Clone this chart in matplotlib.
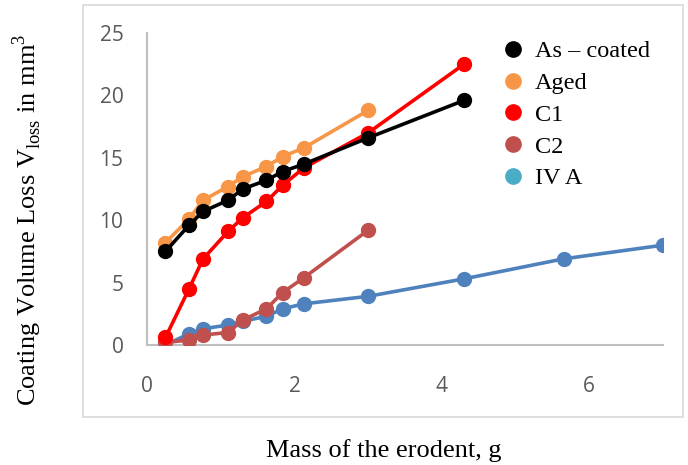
import matplotlib
matplotlib.use("Agg")
import matplotlib.pyplot as plt
from matplotlib.lines import Line2D
from matplotlib.patches import Rectangle

# mass of erodent (g)
x_main = [0.25, 0.57, 0.76, 1.1, 1.3, 1.62, 1.84, 2.13, 3.0, 4.3]
x_aged = [0.25, 0.57, 0.76, 1.1, 1.3, 1.62, 1.84, 2.13, 3.0]
x_c2 = [0.25, 0.57, 0.76, 1.1, 1.3, 1.62, 1.84, 2.13, 3.0]
x_iva = [0.25, 0.57, 0.76, 1.1, 1.3, 1.62, 1.84, 2.13, 3.0, 4.3, 5.65, 7.0]

# volume loss (mm^3)
as_coated = [7.5, 9.6, 10.7, 11.6, 12.5, 13.2, 13.9, 14.5, 16.6, 19.6]
aged = [8.2, 10.1, 11.6, 12.7, 13.5, 14.3, 15.1, 15.8, 18.8]
c1 = [0.6, 4.5, 6.9, 9.1, 10.2, 11.5, 12.8, 14.2, 17.0, 22.5]
c2 = [0.2, 0.4, 0.8, 1.0, 2.0, 2.9, 4.2, 5.4, 9.2]
iva = [0.0, 0.9, 1.3, 1.6, 1.9, 2.3, 2.9, 3.3, 3.9, 5.3, 6.9, 8.0]

labels = ["As \u2013 coated", "Aged", "C1", "C2", "IV A"]
legend_colors = ["#000000", "#F79646", "#FF0000", "#C0504D", "#4BACC6"]

fig = plt.figure(figsize=(6.88, 4.65), dpi=100)
ax = fig.add_axes([0.2137, 0.2581, 0.75, 0.6709])

# outer chart frame
fig.patches.append(Rectangle((0.1206, 0.1032), 0.872, 0.886, transform=fig.transFigure,
                             fill=False, edgecolor="#D9D9D9", linewidth=1.2))

lw = 2.6
ms = 10
ax.plot(x_iva, iva, color="#4F81BD", marker="o", lw=lw, ms=ms, zorder=2)
ax.plot(x_c2, c2, color="#C0504D", marker="o", lw=lw, ms=ms, zorder=3)
ax.plot(x_main, c1, color="#FF0000", marker="o", lw=lw, ms=ms, zorder=4)
ax.plot(x_aged, aged, color="#F79646", marker="o", lw=lw, ms=ms, zorder=4)
ax.plot(x_main, as_coated, color="#000000", marker="o", lw=lw, ms=ms, zorder=5)

ax.set_xlim(0, 7)
ax.set_ylim(0, 25)
ax.set_xticks([0, 2, 4, 6])
ax.set_yticks([0, 5, 10, 15, 20, 25])
ax.tick_params(length=0, labelsize=15, labelcolor="#595959")
ax.tick_params(axis="y", pad=17)
ax.tick_params(axis="x", pad=22)
for lab in ax.get_xticklabels() + ax.get_yticklabels():
    lab.set_fontfamily("Open Sans")
for s in ["top", "right"]:
    ax.spines[s].set_visible(False)
for s in ["left", "bottom"]:
    ax.spines[s].set_color("#BFBFBF")
    ax.spines[s].set_linewidth(1.5)

serif = "Liberation Serif"
fig.text(0.04, 0.527, r"Coating Volume Loss V$_{\mathregular{loss}}$ in mm$^{\mathregular{3}}$",
         rotation=90, ha="center", va="center", fontsize=19, family=serif)
fig.text(0.558, 0.032, "Mass of the erodent, g", ha="center", va="center",
         fontsize=19, family=serif)

handles = [Line2D([], [], linestyle="none", marker="o", ms=11, color=c) for c in legend_colors]
ax.legend(handles, labels, loc="upper left", bbox_to_anchor=(0.70, 0.96),
          bbox_transform=fig.transFigure, frameon=False, handlelength=0.8,
          handletextpad=0.5, labelspacing=0.40, prop={"family": serif, "size": 17.5})

fig.savefig("out.png", dpi=100)
